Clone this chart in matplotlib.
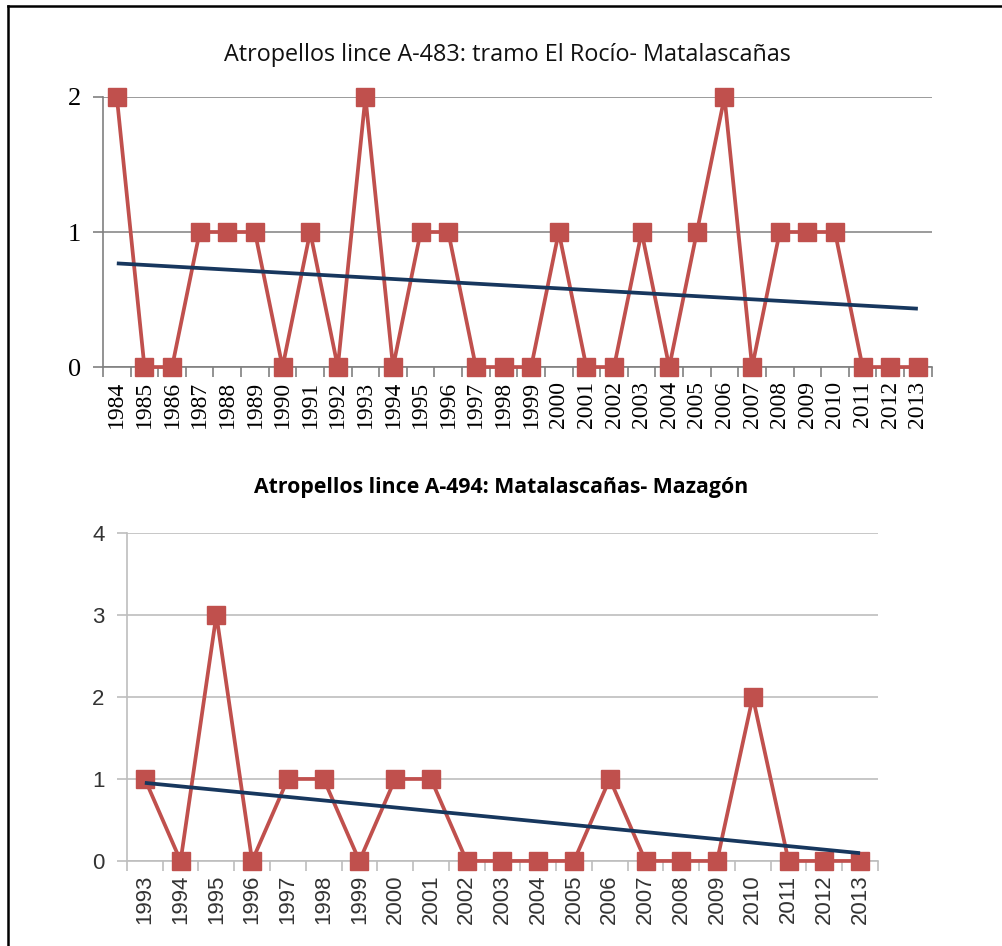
import numpy as np
import matplotlib
matplotlib.use('Agg')
from matplotlib import pyplot as plt
from matplotlib.lines import Line2D

# %%
# =========================== DATA =====================================

YEARS_A483 = [str(y) for y in range(1984, 2014)]
HITS_A483 = [2, 0, 0, 1, 1, 1, 0, 1, 0, 2, 0, 1, 1, 0, 0,
             0, 1, 0, 0, 1, 0, 1, 2, 0, 1, 1, 1, 0, 0, 0]
TITLE_A483 = 'Atropellos lince A-483: tramo El Rocío- Matalascañas'

YEARS_A494 = [str(y) for y in range(1993, 2014)]
HITS_A494 = [1, 0, 3, 0, 1, 1, 0, 1, 1, 0, 0, 0, 0,
             1, 0, 0, 0, 2, 0, 0, 0]
TITLE_A494 = 'Atropellos lince A-494: Matalascañas- Mazagón'

RED = '#C0504D'
NAVY = '#17375E'

# %%
# =========================== FUNCTIONS ================================


def draw_panel(ax, years, hits, yticks, axis_color, grid_color,
               tick_font, tick_size, msize):
    x = np.arange(len(years))
    ax.plot(x, hits, color=RED, lw=2.7, marker='s', ms=msize,
            mfc=RED, mec=RED, clip_on=False, zorder=3)
    # linear trend line (as in the spreadsheet)
    slope, icpt = np.polyfit(x, hits, 1)
    ax.plot(x, slope * x + icpt, color=NAVY, lw=2.7, zorder=4,
            solid_capstyle='butt')

    ax.set_xlim(-0.5, len(years) - 0.5)
    ax.set_ylim(yticks[0], yticks[-1])
    ax.set_yticks(yticks)
    ax.set_yticklabels([str(v) for v in yticks], family=tick_font,
                       fontsize=tick_size)
    ax.yaxis.grid(True, color=grid_color, lw=1.2)
    ax.set_axisbelow(True)

    # category labels at centres, tick marks at boundaries
    ax.set_xticks(x)
    ax.set_xticklabels(years, rotation=90, family=tick_font,
                       fontsize=tick_size)
    ax.tick_params(axis='x', which='major', length=0, pad=10)
    ax.set_xticks(np.arange(len(years) + 1) - 0.5, minor=True)
    ax.tick_params(axis='x', which='minor', length=7, color=axis_color,
                   width=1.2, direction='out')
    ax.tick_params(axis='y', length=7, color=axis_color, width=1.2,
                   pad=9)

    for side in ['top', 'right']:
        ax.spines[side].set_visible(False)
    for side in ['left', 'bottom']:
        ax.spines[side].set_color(axis_color)
        ax.spines[side].set_linewidth(1.2)


# %%
# ============================ RUN =====================================

fig = plt.figure(figsize=(10.02, 9.46), dpi=100)

# top panel: A-483
ax1 = fig.add_axes([0.1028, 0.612, 0.827, 0.2855])
draw_panel(ax1, YEARS_A483, HITS_A483, [0, 1, 2], '#808080', '#8A8A8A',
           'Liberation Serif', 17, 12.5)
for lbl in ax1.get_yticklabels():
    lbl.set_fontsize(19)
fig.text(0.506, 0.942, TITLE_A483, ha='center', va='center',
         family='Open Sans', fontsize=16.8, color='#111111')

# bottom panel: A-494
ax2 = fig.add_axes([0.1267, 0.0899, 0.7495, 0.3467])
draw_panel(ax2, YEARS_A494, HITS_A494, [0, 1, 2, 3, 4], '#BEBEBE',
           '#BEBEBE', 'Liberation Sans', 16, 13)
for lbl in ax2.get_xticklabels() + ax2.get_yticklabels():
    lbl.set_color('#333333')
for lbl in ax2.get_yticklabels():
    lbl.set_fontsize(16)
fig.text(0.500, 0.485, TITLE_A494, ha='center', va='center',
         family='Open Sans', fontsize=15.3, weight='bold')

# frame lines on left and top edges
fig.add_artist(Line2D([7.5 / 1002, 7.5 / 1002], [0, 1 - 6 / 946],
                      color='black', lw=1.8))
fig.add_artist(Line2D([7.5 / 1002, 1], [1 - 6 / 946, 1 - 6 / 946],
                      color='black', lw=1.8))

plt.savefig('out.png', dpi=100)
